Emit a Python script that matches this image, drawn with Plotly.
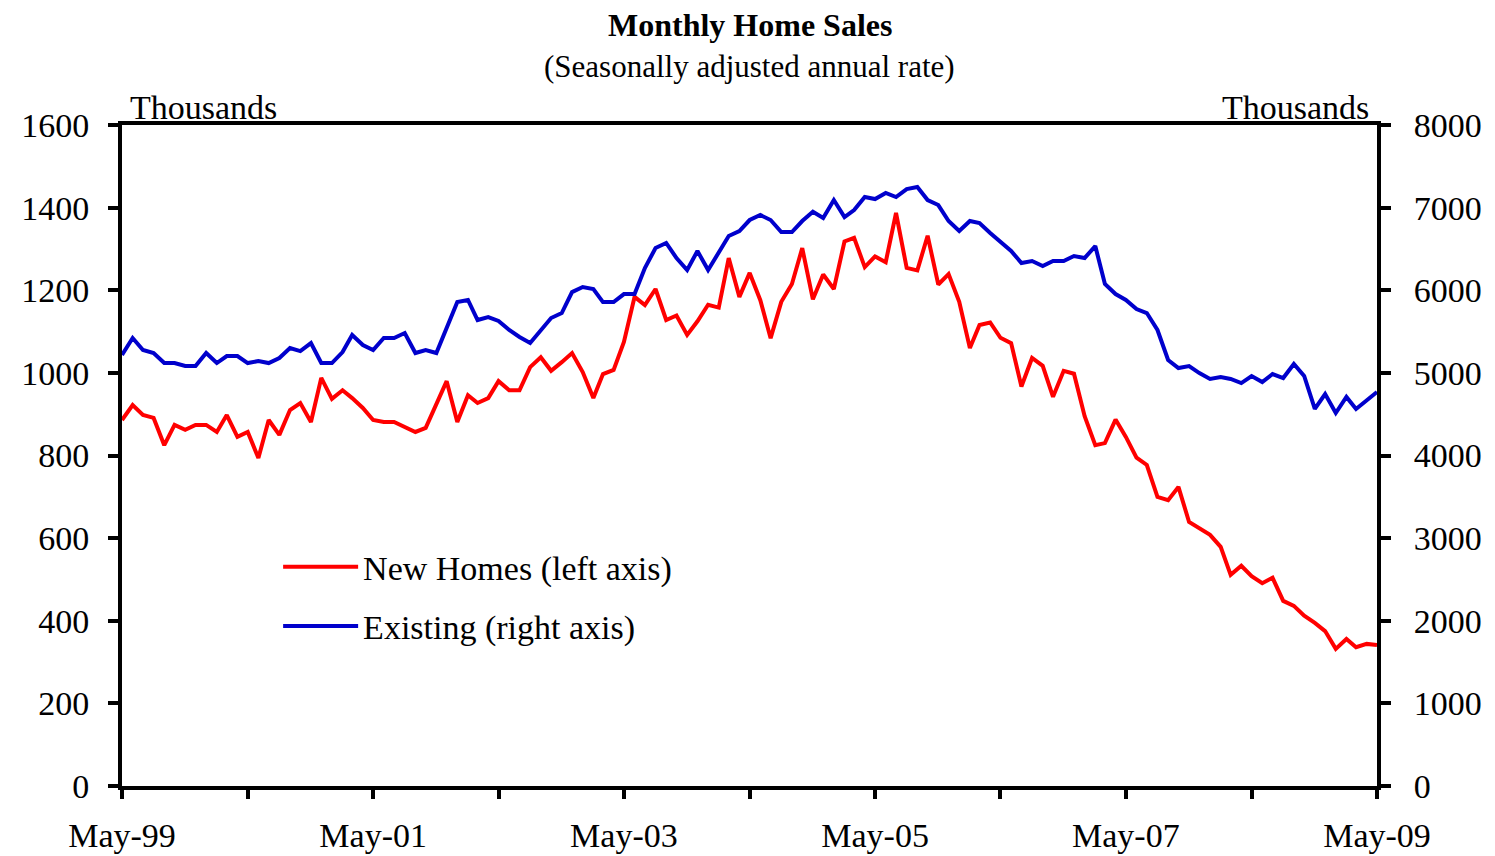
import pandas as pd
import plotly.graph_objects as go

months = pd.date_range("1999-05-01", periods=121, freq="MS")

new_homes = [886, 922, 898, 891, 825, 874, 862, 874, 874, 857, 898, 845,
             857, 794, 886, 850, 910, 927, 881, 988, 937, 958, 939, 915,
             886, 881, 881, 869, 857, 867, 922, 980, 881, 946, 927, 939,
             980, 958, 958, 1014, 1038, 1005, 1026, 1048, 1002, 939, 997, 1007,
             1075, 1184, 1164, 1203, 1128, 1139, 1092, 1125, 1165, 1158, 1278, 1184,
             1242, 1176, 1084, 1172, 1215, 1302, 1178, 1238, 1203, 1318, 1327, 1256,
             1282, 1268, 1387, 1254, 1248, 1332, 1214, 1239, 1172, 1060, 1116, 1122,
             1085, 1072, 967, 1036, 1017, 942, 1005, 998, 895, 825, 830, 887,
             845, 795, 777, 700, 692, 724, 639, 625, 608, 579, 511, 533,
             508, 491, 504, 448, 436, 412, 395, 375, 332, 356, 336, 344,
             341]

existing = [5216, 5422, 5277, 5240, 5119, 5119, 5083, 5083, 5240, 5119, 5204, 5204,
            5119, 5143, 5119, 5180, 5301, 5264, 5361, 5119, 5119, 5252, 5458, 5337,
            5277, 5422, 5422, 5482, 5240, 5277, 5240, 5555, 5857, 5882, 5640, 5676,
            5628, 5519, 5434, 5361, 5506, 5664, 5724, 5978, 6039, 6015, 5857, 5857,
            5954, 5954, 6269, 6511, 6572, 6390, 6245, 6475, 6245, 6451, 6656, 6717,
            6850, 6910, 6850, 6705, 6705, 6838, 6950, 6874, 7092, 6886, 6971, 7128,
            7104, 7177, 7128, 7225, 7250, 7092, 7031, 6838, 6717, 6838, 6814, 6693,
            6584, 6475, 6330, 6354, 6293, 6354, 6354, 6414, 6390, 6535, 6075, 5954,
            5882, 5773, 5724, 5519, 5156, 5059, 5083, 4998, 4926, 4950, 4926, 4877,
            4962, 4889, 4986, 4938, 5107, 4962, 4563, 4744, 4514, 4708, 4563, 4671,
            4768]

x_tick_vals = pd.date_range("1999-05-01", "2009-05-01", freq="12MS")
x_tick_text = ["May-99", "", "May-01", "", "May-03", "", "May-05", "", "May-07", "", "May-09"]

FONT = "Liberation Serif, Times New Roman, serif"

fig = go.Figure()
fig.add_trace(go.Scatter(x=months, y=new_homes, mode="lines", name="New Homes (left axis)",
                         line=dict(color="#FF0000", width=4), legendgroup="a"))
fig.add_trace(go.Scatter(x=months, y=existing, mode="lines", name="Existing (right axis)",
                         line=dict(color="#0000CC", width=4), yaxis="y2", legendgroup="b"))

fig.update_layout(
    width=1495, height=856,
    margin=dict(l=114, r=126, t=117, b=78),
    paper_bgcolor="white", plot_bgcolor="white",
    font=dict(family=FONT, size=34, color="black"),
    showlegend=True,
    legend=dict(x=0.1244, y=0.375, xanchor="left", yanchor="top",
                bgcolor="rgba(0,0,0,0)", font=dict(size=34),
                tracegroupgap=12, itemwidth=75),
    xaxis=dict(range=[months[0], months[-1]], tickvals=x_tick_vals, ticktext=x_tick_text,
               showgrid=False, zeroline=False, showline=True, linewidth=4, linecolor="black",
               mirror=True, ticks="outside", ticklen=9, tickwidth=4, tickcolor="black",
               ticklabelstandoff=7, tickfont=dict(size=34), automargin=False),
    yaxis=dict(range=[0, 1600], dtick=200, showgrid=False, zeroline=False,
               showline=True, linewidth=4, linecolor="black",
               ticks="outside", ticklen=10, tickwidth=4, tickcolor="black",
               ticklabelstandoff=12, tickfont=dict(size=34), automargin=False),
    yaxis2=dict(range=[0, 8000], dtick=1000, overlaying="y", side="right",
                showgrid=False, zeroline=False, showline=True, linewidth=4, linecolor="black",
                ticks="outside", ticklen=10, tickwidth=4, tickcolor="black",
                ticklabelstandoff=16, tickfont=dict(size=34), automargin=False),
    annotations=[
        dict(text="<b>Monthly Home Sales</b>", xref="paper", yref="paper", x=0.5, y=1.152,
             xanchor="center", yanchor="middle", showarrow=False, font=dict(size=32)),
        dict(text="(Seasonally adjusted annual rate)", xref="paper", yref="paper", x=0.5, y=1.089,
             xanchor="center", yanchor="middle", showarrow=False, font=dict(size=31)),
        dict(text="Thousands", xref="paper", yref="paper", x=0.005, y=0.995,
             xanchor="left", yanchor="bottom", showarrow=False, font=dict(size=34)),
        dict(text="Thousands", xref="paper", yref="paper", x=0.995, y=0.995,
             xanchor="right", yanchor="bottom", showarrow=False, font=dict(size=34)),
    ],
)

fig.write_html("out.html")
